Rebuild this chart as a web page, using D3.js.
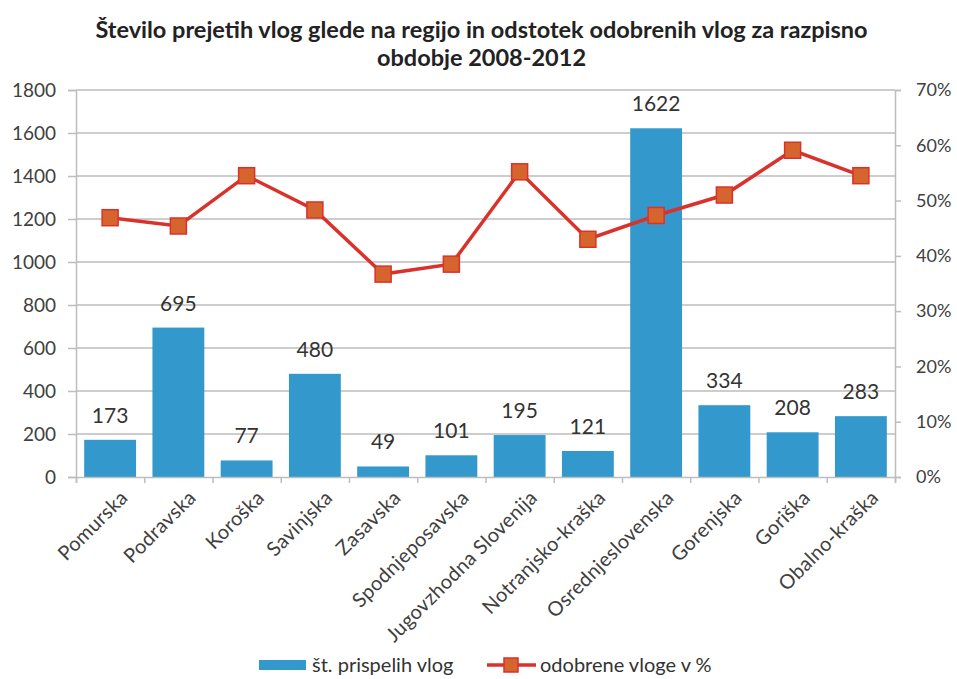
<!DOCTYPE html>
<html>
<head>
<meta charset="utf-8">
<script src="https://cdn.jsdelivr.net/npm/d3@7"></script>
<style>
  body { margin: 0; background: #fff; }
  svg { font-family: Lato, "Open Sans", sans-serif; }
</style>
</head>
<body>
<div id="chart-area"></div>
<script>
// chart data
const regions = ['Pomurska', 'Podravska', 'Koroška', 'Savinjska', 'Zasavska', 'Spodnjeposavska',
  'Jugovzhodna Slovenija', 'Notranjsko-kraška', 'Osrednjeslovenska', 'Gorenjska', 'Goriška', 'Obalno-kraška'];
const applications = [173, 695, 77, 480, 49, 101, 195, 121, 1622, 334, 208, 283];
const approvedPct = [46.9, 45.4, 54.5, 48.3, 36.7, 38.5, 55.2, 43.0, 47.3, 51.0, 59.1, 54.5];
const leftTicks = [0, 200, 400, 600, 800, 1000, 1200, 1400, 1600, 1800];
const rightTicks = [0, 10, 20, 30, 40, 50, 60, 70];
const titleLines = ['Število prejetih vlog glede na regijo in odstotek odobrenih vlog za razpisno', 'obdobje 2008-2012'];
const legendLabels = ['št. prispelih vlog', 'odobrene vloge v %'];

const W = 957, H = 679;
const margin = { top: 90, right: 62, bottom: 202, left: 76 };
const width = W - margin.left - margin.right;
const height = H - margin.top - margin.bottom;

const barColour = '#3399cc';
const lineColour = '#d9322b';
const markerColour = '#d5652c';
const gridColour = '#bdbdbd';
const textColour = '#404040';

const svg = d3.select('#chart-area').append('svg')
  .attr('width', W)
  .attr('height', H);

// title
svg.append('g').selectAll('text')
  .data(titleLines)
  .join('text')
  .attr('x', W / 2 + 3)
  .attr('y', (d, i) => 38 + i * 28)
  .attr('text-anchor', 'middle')
  .attr('font-size', '23.5px')
  .attr('font-weight', 'bold')
  .attr('fill', '#222')
  .text(d => d);

const g = svg.append('g')
  .attr('transform', `translate(${margin.left}, ${margin.top})`);

const x = d3.scaleBand()
  .domain(regions)
  .range([0, width])
  .paddingInner(0.24)
  .paddingOuter(0.12);

const y = d3.scaleLinear()
  .domain([0, 1800])
  .range([height, 0]);

const y2 = d3.scaleLinear()
  .domain([0, 70])
  .range([height, 0]);

// gridlines
g.append('g')
  .selectAll('line')
  .data(leftTicks.filter(d => d > 0))
  .join('line')
  .attr('x1', 0)
  .attr('x2', width)
  .attr('y1', d => y(d))
  .attr('y2', d => y(d))
  .attr('stroke', gridColour)
  .attr('stroke-width', 1.5);

// left axis
const yAxisGroup = g.append('g')
  .call(d3.axisLeft(y).tickValues(leftTicks).tickFormat(d3.format('d')).tickSize(8).tickPadding(12));
yAxisGroup.select('.domain').attr('stroke', gridColour).attr('stroke-width', 1.5);
yAxisGroup.selectAll('.tick line').attr('stroke', gridColour).attr('stroke-width', 1.5);
yAxisGroup.selectAll('text').attr('font-size', '19px').attr('fill', textColour)
  .attr('font-family', 'Lato, sans-serif');

// right axis
const y2AxisGroup = g.append('g')
  .attr('transform', `translate(${width}, 0)`)
  .call(d3.axisRight(y2).tickValues(rightTicks).tickFormat(d => d + '%').tickSize(6).tickPadding(15));
y2AxisGroup.select('.domain').attr('stroke', gridColour).attr('stroke-width', 1.5);
y2AxisGroup.selectAll('.tick line').attr('stroke', gridColour).attr('stroke-width', 1.5);
y2AxisGroup.selectAll('text').attr('font-size', '18px').attr('fill', textColour)
  .attr('font-family', 'Lato, sans-serif');

// bars
g.append('g')
  .selectAll('rect')
  .data(applications)
  .join('rect')
  .attr('x', (d, i) => x(regions[i]))
  .attr('y', d => y(d))
  .attr('width', x.bandwidth())
  .attr('height', d => height - y(d))
  .attr('fill', barColour);

// bar labels
g.append('g')
  .selectAll('text')
  .data(applications)
  .join('text')
  .attr('x', (d, i) => x(regions[i]) + x.bandwidth() / 2)
  .attr('y', d => y(d) - 17)
  .attr('text-anchor', 'middle')
  .attr('font-size', '21px')
  .attr('fill', '#333')
  .text(d => d);

// bottom axis
const xAxisGroup = g.append('g')
  .attr('transform', `translate(0, ${height})`)
  .call(d3.axisBottom(d3.scaleLinear().domain([0, regions.length]).range([0, width]))
    .tickValues(d3.range(regions.length + 1)).tickSize(6).tickFormat(''));
xAxisGroup.select('.domain').attr('stroke', gridColour).attr('stroke-width', 1.5);
xAxisGroup.selectAll('.tick line').attr('stroke', gridColour).attr('stroke-width', 1.5);

// category labels, rotated
g.append('g')
  .selectAll('text')
  .data(regions)
  .join('text')
  .attr('transform', d => `translate(${x(d) + x.bandwidth() / 2 + 9}, ${height + 12}) rotate(-45)`)
  .attr('text-anchor', 'end')
  .attr('dy', '0.7em')
  .attr('font-size', '20px')
  .attr('letter-spacing', '0.3px')
  .attr('fill', textColour)
  .text(d => d);

// line
const line = d3.line()
  .x((d, i) => x(regions[i]) + x.bandwidth() / 2)
  .y(d => y2(d));

g.append('path')
  .datum(approvedPct)
  .attr('d', line)
  .attr('fill', 'none')
  .attr('stroke', lineColour)
  .attr('stroke-width', 3.5);

const ms = 16;
g.append('g')
  .selectAll('rect')
  .data(approvedPct)
  .join('rect')
  .attr('x', (d, i) => x(regions[i]) + x.bandwidth() / 2 - ms / 2)
  .attr('y', d => y2(d) - ms / 2)
  .attr('width', ms)
  .attr('height', ms)
  .attr('fill', markerColour)
  .attr('stroke', lineColour)
  .attr('stroke-width', 1.5);

// legend
const legend = svg.append('g');
legend.append('rect')
  .attr('x', 259)
  .attr('y', 660)
  .attr('width', 47)
  .attr('height', 10)
  .attr('fill', barColour);
legend.append('text')
  .attr('x', 312)
  .attr('y', 672)
  .attr('font-size', '20px')
  .attr('fill', '#333')
  .text(legendLabels[0]);
legend.append('line')
  .attr('x1', 487)
  .attr('x2', 536)
  .attr('y1', 665)
  .attr('y2', 665)
  .attr('stroke', lineColour)
  .attr('stroke-width', 3.5);
legend.append('rect')
  .attr('x', 504)
  .attr('y', 658)
  .attr('width', 14)
  .attr('height', 14)
  .attr('fill', markerColour)
  .attr('stroke', lineColour)
  .attr('stroke-width', 1.5);
legend.append('text')
  .attr('x', 540)
  .attr('y', 672)
  .attr('font-size', '20px')
  .attr('fill', '#333')
  .text(legendLabels[1]);
</script>
</body>
</html>
